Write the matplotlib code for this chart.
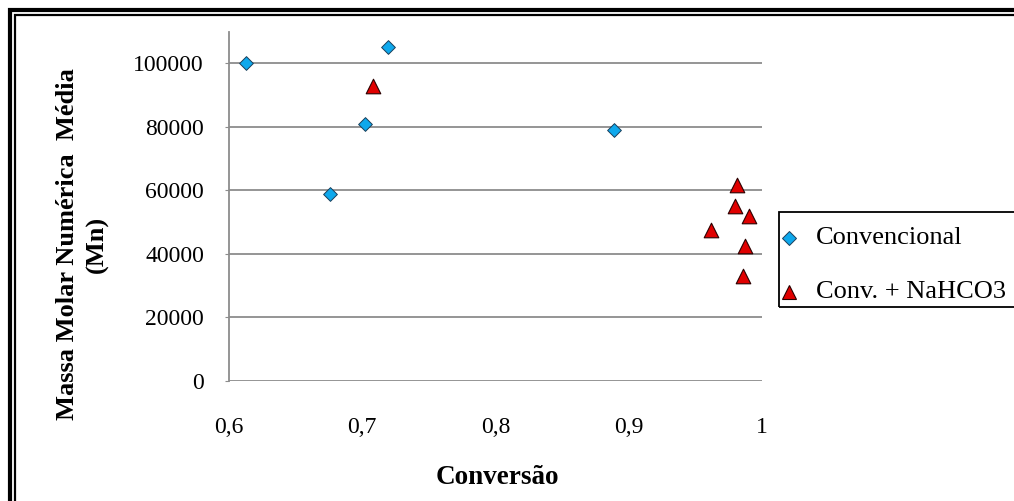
import numpy as np
import matplotlib.pyplot as plt
from matplotlib.patches import Rectangle
from matplotlib.lines import Line2D

plt.rcParams["font.family"] = ["Liberation Serif", "DejaVu Serif"]

# ── DATA ──────────────────────────────────────────────────────────────────────
conv_x = [0.613, 0.719, 0.702, 0.889, 0.676]
conv_y = [100000, 105000, 81000, 79000, 59000]

nahco3_x = [0.708, 0.981, 0.980, 0.990, 0.962, 0.987, 0.986]
nahco3_y = [93000, 61700, 55000, 51800, 47600, 42600, 33000]

x_ticks = [0.6, 0.7, 0.8, 0.9, 1.0]
x_labels = ["0,6", "0,7", "0,8", "0,9", "1"]
y_ticks = [0, 20000, 40000, 60000, 80000, 100000]

BLUE = "#0EA8EC"
RED = "#E00000"
GRID = "#8C8C8C"

# ── FIGURE ────────────────────────────────────────────────────────────────────
W, H = 1014, 501
fig = plt.figure(figsize=(W / 100, H / 100), dpi=100)

# double frame (cropped on right and bottom)
fig.patches.append(Rectangle((10 / W, -0.1), 1.2, 1 - 10 / H + 0.1,
                             transform=fig.transFigure, fill=False,
                             lw=3, ec="black"))
fig.patches.append(Rectangle((14.5 / W, -0.1), 1.2, 1 - 14.8 / H + 0.1,
                             transform=fig.transFigure, fill=False,
                             lw=1.6, ec="black"))

ax = fig.add_axes([229 / W, 1 - 381 / H, (762 - 229) / W, (381 - 31.5) / H])
ax.set_xlim(0.6, 1.0)
ax.set_ylim(0, 110000)

for yv in y_ticks:
    ax.axhline(yv, color=GRID, lw=1.3, zorder=1)

ax.scatter(conv_x, conv_y, marker="D", s=7 ** 2, color=BLUE,
           edgecolors="#1C3F5A", linewidths=0.7, zorder=3, label="Convencional")
ax.scatter(nahco3_x, nahco3_y, marker="^", s=10.5 ** 2, color=RED,
           edgecolors="#2A0000", linewidths=0.8, zorder=3, label="Conv. + NaHCO3")

for s in ["top", "right", "bottom"]:
    ax.spines[s].set_visible(False)
ax.spines["left"].set_color(GRID)
ax.spines["left"].set_linewidth(1.3)

ax.set_xticks(x_ticks)
ax.set_xticklabels(x_labels, fontsize=17)
ax.set_yticks(y_ticks)
ax.set_yticklabels([str(v) for v in y_ticks], fontsize=17)
ax.tick_params(axis="x", length=0, pad=26)
ax.tick_params(axis="y", length=3, color=GRID, pad=15)

fig.text(497 / W, 1 - 478 / H, "Conversão", ha="center", va="center",
         fontsize=19.5, fontweight="bold")
fig.text(68 / W, 1 - 244 / H, "Massa Molar Numérica  Média", rotation=90,
         ha="center", va="center", fontsize=19, fontweight="bold")
fig.text(97 / W, 1 - 244 / H, "(Mn)", rotation=90,
         ha="center", va="center", fontsize=19, fontweight="bold")

# legend box
fig.patches.append(Rectangle((779 / W, 1 - 307 / H), 240 / W, 95 / H,
                             transform=fig.transFigure, fill=False,
                             lw=1.3, ec="black"))
handles = [
    Line2D([], [], marker="D", ls="", ms=7, mfc=BLUE, mec="#1C3F5A", mew=0.7),
    Line2D([], [], marker="^", ls="", ms=10, mfc=RED, mec="#2A0000", mew=0.8),
]
for h, lab, yy in zip(handles, ["Convencional", "Conv. + NaHCO3"], [238, 292]):
    fig.add_artist(Line2D([789 / W], [1 - yy / H], transform=fig.transFigure,
                          marker=h.get_marker(), ls="", ms=h.get_markersize(),
                          mfc=h.get_markerfacecolor(), mec=h.get_markeredgecolor(),
                          mew=h.get_markeredgewidth()))
    fig.text(816 / W, 1 - yy / H, lab, ha="left", va="center", fontsize=19)

fig.savefig("out.png", dpi=100)
